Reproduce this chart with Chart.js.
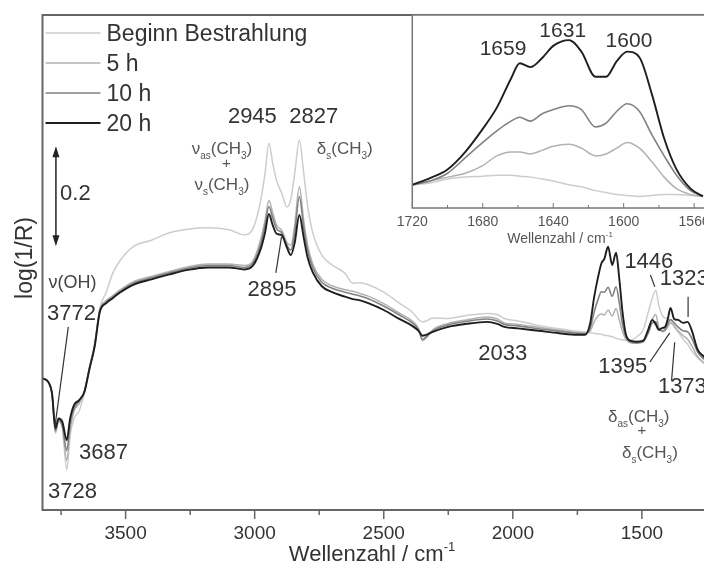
<!DOCTYPE html>
<html>
<head>
<meta charset="utf-8">
<script src="https://cdn.jsdelivr.net/npm/chart.js@4.4.1/dist/chart.umd.min.js"></script>
<style>
    html, body { margin: 0; padding: 0; background: #fff; overflow: hidden; }
    #wrap { position: relative; width: 704px; height: 568px; overflow: hidden; background: #fff; }
    #mainChart { position: absolute; left: 0; top: 0; }
    #insetChart { position: absolute; left: 370px; top: 0; }
</style>
</head>
<body>
<div id="wrap">
    <canvas id="mainChart" width="712" height="568"></canvas>
    <canvas id="insetChart" width="346" height="250"></canvas>
</div>
<script>
const FONT = '"Liberation Sans", Arial, Helvetica, sans-serif';

// main spectrum, log(1/R) in arbitrary offset units
const seriesLabels = ['Beginn Bestrahlung', '5 h', '10 h', '20 h'];
const wavenumbers = [3822, 3800, 3785, 3772, 3760, 3745, 3728, 3715, 3700, 3680, 3660, 3640, 3620, 3600, 3575, 3550,
    3520, 3470, 3400, 3330, 3260, 3180, 3100, 3040, 3005, 2975, 2960, 2945, 2930, 2915, 2895, 2875, 2860, 2845, 2827,
    2810, 2795, 2775, 2740, 2700, 2650, 2620, 2595, 2560, 2500, 2440, 2390, 2365, 2350, 2335, 2310, 2250, 2180, 2100,
    2060, 2033, 1980, 1900, 1820, 1750, 1720, 1700, 1685, 1670, 1657, 1645, 1631, 1615, 1600, 1588, 1575, 1562, 1545,
    1520, 1495, 1475, 1460, 1446, 1435, 1420, 1410, 1400, 1389, 1375, 1360, 1340, 1323, 1305, 1285, 1260, 1240];
const beginn = [0.266, 0.259, 0.232, 0.155, 0.178, 0.165, 0.081, 0.150, 0.185, 0.200, 0.236, 0.288, 0.336, 0.408, 0.440, 0.478,
    0.505, 0.532, 0.545, 0.560, 0.567, 0.570, 0.566, 0.556, 0.570, 0.630, 0.680, 0.741, 0.700, 0.665, 0.640, 0.612, 0.628, 0.680, 0.747,
    0.680, 0.615, 0.560, 0.515, 0.495, 0.478, 0.458, 0.459, 0.455, 0.440, 0.418, 0.400, 0.385, 0.380, 0.382, 0.388, 0.387, 0.393, 0.397,
    0.395, 0.387, 0.382, 0.373, 0.366, 0.361, 0.360, 0.358, 0.357, 0.356, 0.355, 0.353, 0.352, 0.350, 0.347, 0.345, 0.344, 0.343, 0.343,
    0.350, 0.364, 0.400, 0.428, 0.444, 0.415, 0.392, 0.388, 0.386, 0.382, 0.370, 0.360, 0.345, 0.335, 0.320, 0.308, 0.296, 0.288];
const h5 = [0.266, 0.259, 0.233, 0.158, 0.180, 0.168, 0.100, 0.160, 0.200, 0.215, 0.238, 0.288, 0.334, 0.405, 0.423, 0.433,
    0.445, 0.461, 0.472, 0.482, 0.491, 0.497, 0.497, 0.494, 0.505, 0.550, 0.585, 0.626, 0.600, 0.575, 0.565, 0.540, 0.535, 0.575, 0.653,
    0.585, 0.535, 0.497, 0.466, 0.453, 0.445, 0.442, 0.438, 0.432, 0.417, 0.398, 0.382, 0.366, 0.342, 0.348, 0.364, 0.377, 0.384, 0.390,
    0.386, 0.378, 0.375, 0.369, 0.363, 0.358, 0.357, 0.362, 0.380, 0.392, 0.396, 0.394, 0.404, 0.392, 0.407, 0.385, 0.360, 0.345, 0.338,
    0.337, 0.340, 0.360, 0.385, 0.395, 0.370, 0.360, 0.362, 0.370, 0.378, 0.372, 0.362, 0.352, 0.345, 0.330, 0.310, 0.298, 0.290];
const h10 = [0.266, 0.259, 0.235, 0.160, 0.182, 0.170, 0.120, 0.175, 0.205, 0.220, 0.240, 0.287, 0.332, 0.402, 0.420, 0.430,
    0.442, 0.458, 0.469, 0.479, 0.488, 0.494, 0.494, 0.490, 0.500, 0.540, 0.575, 0.613, 0.590, 0.568, 0.560, 0.535, 0.525, 0.560, 0.633,
    0.570, 0.525, 0.490, 0.460, 0.448, 0.440, 0.436, 0.433, 0.427, 0.412, 0.394, 0.378, 0.364, 0.345, 0.350, 0.362, 0.374, 0.381, 0.386,
    0.382, 0.375, 0.372, 0.366, 0.361, 0.357, 0.356, 0.368, 0.400, 0.425, 0.441, 0.440, 0.450, 0.432, 0.451, 0.420, 0.375, 0.350, 0.340,
    0.338, 0.340, 0.358, 0.378, 0.380, 0.365, 0.362, 0.365, 0.375, 0.385, 0.378, 0.370, 0.362, 0.360, 0.345, 0.320, 0.305, 0.296];
const h20 = [0.266, 0.259, 0.235, 0.165, 0.185, 0.178, 0.141, 0.185, 0.212, 0.222, 0.238, 0.285, 0.330, 0.400, 0.418, 0.428,
    0.440, 0.455, 0.466, 0.476, 0.485, 0.490, 0.490, 0.486, 0.495, 0.530, 0.560, 0.598, 0.575, 0.558, 0.555, 0.530, 0.515, 0.540, 0.596,
    0.550, 0.510, 0.480, 0.452, 0.440, 0.431, 0.426, 0.424, 0.418, 0.404, 0.386, 0.372, 0.362, 0.352, 0.354, 0.360, 0.370, 0.376, 0.380,
    0.376, 0.370, 0.367, 0.362, 0.357, 0.354, 0.354, 0.378, 0.430, 0.470, 0.498, 0.508, 0.532, 0.495, 0.520, 0.470, 0.400, 0.355, 0.342,
    0.340, 0.342, 0.365, 0.384, 0.375, 0.364, 0.368, 0.370, 0.385, 0.408, 0.386, 0.384, 0.378, 0.380, 0.360, 0.325, 0.310, 0.300];
const xTickValues = [3500, 3000, 2500, 2000, 1500];

// inset, 1720-1555 cm-1
const insetWavenumbers = [1720, 1710, 1700, 1690, 1680, 1672, 1664, 1659, 1653, 1646, 1640, 1631, 1624, 1616, 1610,
    1604, 1598, 1591, 1584, 1577, 1570, 1562, 1555];
const insetBeginn = [0.12, 0.13, 0.15, 0.16, 0.165, 0.17, 0.17, 0.165, 0.16, 0.15, 0.14, 0.12, 0.11, 0.09, 0.08,
    0.07, 0.065, 0.06, 0.065, 0.07, 0.07, 0.065, 0.06];
const inset5h = [0.12, 0.14, 0.16, 0.18, 0.22, 0.27, 0.29, 0.29, 0.28, 0.30, 0.32, 0.33, 0.31, 0.27, 0.28,
    0.31, 0.34, 0.31, 0.24, 0.16, 0.10, 0.07, 0.06];
const inset10h = [0.12, 0.14, 0.18, 0.26, 0.34, 0.40, 0.45, 0.47, 0.45, 0.49, 0.51, 0.53, 0.51, 0.42, 0.44,
    0.50, 0.54, 0.50, 0.38, 0.27, 0.17, 0.09, 0.06];
const inset20h = [0.12, 0.155, 0.20, 0.29, 0.41, 0.52, 0.67, 0.75, 0.73, 0.78, 0.84, 0.87, 0.81, 0.68, 0.68,
    0.76, 0.81, 0.78, 0.59, 0.36, 0.20, 0.10, 0.06];
const insetTickValues = [1720, 1680, 1640, 1600, 1560];

const seriesColors = ['#cdcdcd', '#b2b2b2', '#828282', '#1e1e1e'];
const seriesWidths = [1.5, 1.5, 1.6, 1.9];

// band labels, placed in data coordinates (wavenumber, log(1/R))
const sub = (t) => [t, 1];
const txt = (t) => [t, 0];
const bandLabels = [
    { parts: [txt('2945')], x: 3009, y: 0.782, size: 22, color: '#333' },
    { parts: [txt('2827')], x: 2771, y: 0.782, size: 22, color: '#333' },
    { parts: [txt('\u03bd'), sub('as'), txt('(CH'), sub('3'), txt(')')], x: 3127, y: 0.719, size: 17, color: '#555' },
    { parts: [txt('+')], x: 3110, y: 0.690, size: 15, color: '#555' },
    { parts: [txt('\u03bd'), sub('s'), txt('(CH'), sub('3'), txt(')')], x: 3127, y: 0.646, size: 17, color: '#555' },
    { parts: [txt('\u03b4'), sub('s'), txt('(CH'), sub('3'), txt(')')], x: 2651, y: 0.719, size: 17, color: '#555' },
    { parts: [txt('2895')], x: 2933, y: 0.432, size: 22, color: '#333' },
    { parts: [txt('\u03bd(OH)')], x: 3706, y: 0.448, size: 18, color: '#444' },
    { parts: [txt('3772')], x: 3710, y: 0.384, size: 22, color: '#333' },
    { parts: [txt('3687')], x: 3586, y: 0.103, size: 22, color: '#333' },
    { parts: [txt('3728')], x: 3706, y: 0.024, size: 22, color: '#333' },
    { parts: [txt('2033')], x: 2039, y: 0.303, size: 22, color: '#333' },
    { parts: [txt('1446')], x: 1473, y: 0.489, size: 22, color: '#333' },
    { parts: [txt('1323')], x: 1431, y: 0.455, size: 22, color: '#333', align: 'left' },
    { parts: [txt('1395')], x: 1574, y: 0.277, size: 22, color: '#333' },
    { parts: [txt('1373')], x: 1438, y: 0.236, size: 22, color: '#333', align: 'left' },
    { parts: [txt('\u03b4'), sub('as'), txt('(CH'), sub('3'), txt(')')], x: 1512, y: 0.178, size: 17, color: '#555' },
    { parts: [txt('+')], x: 1500, y: 0.152, size: 15, color: '#555' },
    { parts: [txt('\u03b4'), sub('s'), txt('(CH'), sub('3'), txt(')')], x: 1469, y: 0.105, size: 17, color: '#555' }
];
const leaderLines = [
    [[2918, 0.479], [2896, 0.552]],
    [[3722, 0.370], [3774, 0.168]],
    [[1467, 0.475], [1450, 0.451]],
    [[1321, 0.431], [1321, 0.390]],
    [[1469, 0.299], [1392, 0.358]],
    [[1385, 0.261], [1373, 0.339]]
];
const scaleBar = { x: 3770, from: 0.533, to: 0.735, label: '0.2', labelX: 3754, labelY: 0.626 };

const insetLabels = [
    { parts: [txt('1659')], x: 1668.5, y: 0.793, size: 21, color: '#333' },
    { parts: [txt('1631')], x: 1634.6, y: 0.888, size: 21, color: '#333' },
    { parts: [txt('1600')], x: 1597, y: 0.836, size: 21, color: '#333' }
];

function richText(ctx, parts, x, y, size, align, color) {
    ctx.save();
    ctx.fillStyle = color;
    ctx.textBaseline = 'alphabetic';
    ctx.textAlign = 'left';
    const small = Math.round(size * 0.6);
    let total = 0;
    const widths = parts.map(([t, s]) => {
        ctx.font = (s ? small : size) + 'px ' + FONT;
        const w = ctx.measureText(t).width;
        total += w;
        return w;
    });
    let cx = align === 'left' ? x : x - total / 2;
    parts.forEach(([t, s], i) => {
        ctx.font = (s ? small : size) + 'px ' + FONT;
        let dy = 0;
        if (s > 0) dy = size * 0.28;
        if (s < 0) dy = -size * 0.45;
        ctx.fillText(t, cx, y + dy);
        cx += widths[i];
    });
    ctx.restore();
}

function makeSet(label, xs, ys, i) {
    return {
        label: label,
        data: xs.map((w, k) => ({ x: w, y: ys[k] })),
        borderColor: seriesColors[i],
        borderWidth: seriesWidths[i],
        pointRadius: 0,
        fill: false,
        order: 3 - i,
        cubicInterpolationMode: 'monotone'
    };
}

const mainDecor = {
    id: 'mainDecor',
    afterDatasetsDraw(chart) {
        const ctx = chart.ctx;
        const area = chart.chartArea;
        const xs = chart.scales.x;
        const ys = chart.scales.y;

        // frame
        ctx.save();
        ctx.strokeStyle = '#666';
        ctx.lineWidth = 2;
        ctx.strokeRect(area.left, area.top, area.right - area.left, area.bottom - area.top);

        // ticks below the axis
        ctx.lineWidth = 1.5;
        ctx.beginPath();
        for (let v = 3750; v >= 1250; v -= 250) {
            const px = xs.getPixelForValue(v);
            const len = v % 500 === 0 ? 9 : 5;
            ctx.moveTo(px, area.bottom);
            ctx.lineTo(px, area.bottom + len);
        }
        ctx.stroke();
        ctx.restore();

        // legend
        chart.data.datasets.forEach((ds, i) => {
            const ly = area.top + 18 + i * 30;
            ctx.save();
            ctx.strokeStyle = ds.borderColor;
            ctx.lineWidth = ds.borderWidth;
            ctx.beginPath();
            ctx.moveTo(area.left + 3, ly);
            ctx.lineTo(area.left + 58, ly);
            ctx.stroke();
            ctx.restore();
            richText(ctx, [[ds.label, 0]], area.left + 64, ly + 8, 23, 'left', '#333');
        });

        // leader lines
        ctx.save();
        ctx.strokeStyle = '#333';
        ctx.lineWidth = 1.2;
        leaderLines.forEach(seg => {
            ctx.beginPath();
            ctx.moveTo(xs.getPixelForValue(seg[0][0]), ys.getPixelForValue(seg[0][1]));
            ctx.lineTo(xs.getPixelForValue(seg[1][0]), ys.getPixelForValue(seg[1][1]));
            ctx.stroke();
        });
        ctx.restore();

        bandLabels.forEach(l => {
            richText(ctx, l.parts, xs.getPixelForValue(l.x), ys.getPixelForValue(l.y), l.size, l.align || 'center', l.color);
        });

        // 0.2 scale arrow
        const ax = xs.getPixelForValue(scaleBar.x);
        const y1 = ys.getPixelForValue(scaleBar.to);
        const y2 = ys.getPixelForValue(scaleBar.from);
        ctx.save();
        ctx.strokeStyle = '#222';
        ctx.fillStyle = '#222';
        ctx.lineWidth = 1.5;
        ctx.beginPath();
        ctx.moveTo(ax, y1 + 8);
        ctx.lineTo(ax, y2 - 8);
        ctx.stroke();
        ctx.beginPath();
        ctx.moveTo(ax, y1);
        ctx.lineTo(ax - 3.5, y1 + 11);
        ctx.lineTo(ax + 3.5, y1 + 11);
        ctx.closePath();
        ctx.fill();
        ctx.beginPath();
        ctx.moveTo(ax, y2);
        ctx.lineTo(ax - 3.5, y2 - 11);
        ctx.lineTo(ax + 3.5, y2 - 11);
        ctx.closePath();
        ctx.fill();
        ctx.restore();
        richText(ctx, [[scaleBar.label, 0]], xs.getPixelForValue(scaleBar.labelX), ys.getPixelForValue(scaleBar.labelY), 22, 'left', '#333');

        // axis titles
        richText(ctx, [['Wellenzahl / cm', 0], ['-1', -1]], 372, 561, 22, 'center', '#333');
        ctx.save();
        ctx.translate(24, 258);
        ctx.rotate(-Math.PI / 2);
        richText(ctx, [['log(1/R)', 0]], 0, 8, 23, 'center', '#333');
        ctx.restore();
    }
};

const insetDecor = {
    id: 'insetDecor',
    beforeDatasetsDraw(chart) {
        const a = chart.chartArea;
        chart.ctx.save();
        chart.ctx.fillStyle = '#fff';
        chart.ctx.fillRect(a.left, a.top, a.right - a.left, a.bottom - a.top);
        chart.ctx.restore();
    },
    afterDatasetsDraw(chart) {
        const ctx = chart.ctx;
        const a = chart.chartArea;
        const xs = chart.scales.x;
        const ys = chart.scales.y;
        ctx.save();
        ctx.strokeStyle = '#777';
        ctx.lineWidth = 1.5;
        ctx.strokeRect(a.left, a.top, a.right - a.left, a.bottom - a.top);
        ctx.lineWidth = 1;
        ctx.beginPath();
        for (let v = 1720; v >= 1560; v -= 20) {
            const px = xs.getPixelForValue(v);
            const len = v % 40 === 0 ? 5 : 3;
            ctx.moveTo(px, a.bottom);
            ctx.lineTo(px, a.bottom - len);
        }
        ctx.stroke();
        ctx.restore();
        insetLabels.forEach(l => {
            richText(ctx, l.parts, xs.getPixelForValue(l.x), ys.getPixelForValue(l.y), l.size, 'center', l.color);
        });
        richText(ctx, [['Wellenzahl / cm', 0], ['-1', -1]], 190, 243, 14, 'center', '#555');
    }
};

const mainChart = new Chart(document.getElementById('mainChart'), {
    type: 'line',
    data: {
        datasets: [
            makeSet(seriesLabels[0], wavenumbers, beginn, 0),
            makeSet(seriesLabels[1], wavenumbers, h5, 1),
            makeSet(seriesLabels[2], wavenumbers, h10, 2),
            makeSet(seriesLabels[3], wavenumbers, h20, 3)
        ]
    },
    options: {
        responsive: false,
        devicePixelRatio: 1,
        animation: false,
        events: [],
        layout: { padding: { left: 0, top: 15, right: 3, bottom: 0 } },
        plugins: { legend: { display: false }, tooltip: { enabled: false } },
        scales: {
            x: {
                type: 'linear',
                reverse: true,
                min: 1240,
                max: 3822,
                afterBuildTicks: s => { s.ticks = xTickValues.map(v => ({ value: v })); },
                afterFit: s => { s.height = 58; },
                grid: { display: false, drawTicks: true, tickLength: 9 },
                border: { display: false },
                ticks: {
                    font: { size: 19, family: FONT },
                    color: '#333',
                    padding: 3,
                    autoSkip: false,
                    maxRotation: 0,
                    callback: v => String(v)
                }
            },
            y: {
                min: 0,
                max: 1,
                afterFit: s => { s.width = 42.5; },
                grid: { display: false, drawTicks: false },
                border: { display: false },
                ticks: { display: false }
            }
        }
    },
    plugins: [mainDecor]
});

const insetChart = new Chart(document.getElementById('insetChart'), {
    type: 'line',
    data: {
        datasets: [
            makeSet(seriesLabels[0], insetWavenumbers, insetBeginn, 0),
            makeSet(seriesLabels[1], insetWavenumbers, inset5h, 1),
            makeSet(seriesLabels[2], insetWavenumbers, inset10h, 2),
            makeSet(seriesLabels[3], insetWavenumbers, inset20h, 3)
        ]
    },
    options: {
        responsive: false,
        devicePixelRatio: 1,
        animation: false,
        events: [],
        layout: { padding: { left: 42.3, top: 15, right: 6.3, bottom: 0 } },
        plugins: { legend: { display: false }, tooltip: { enabled: false } },
        scales: {
            x: {
                type: 'linear',
                reverse: true,
                min: 1552,
                max: 1720,
                afterBuildTicks: s => { s.ticks = insetTickValues.map(v => ({ value: v })); },
                afterFit: s => { s.height = 42; },
                grid: { display: false, drawTicks: false },
                border: { display: false },
                ticks: {
                    font: { size: 14, family: FONT },
                    color: '#555',
                    padding: 6,
                    autoSkip: false,
                    maxRotation: 0,
                    callback: v => String(v)
                }
            },
            y: { display: false, min: 0, max: 1 }
        }
    },
    plugins: [insetDecor]
});
</script>
</body>
</html>
